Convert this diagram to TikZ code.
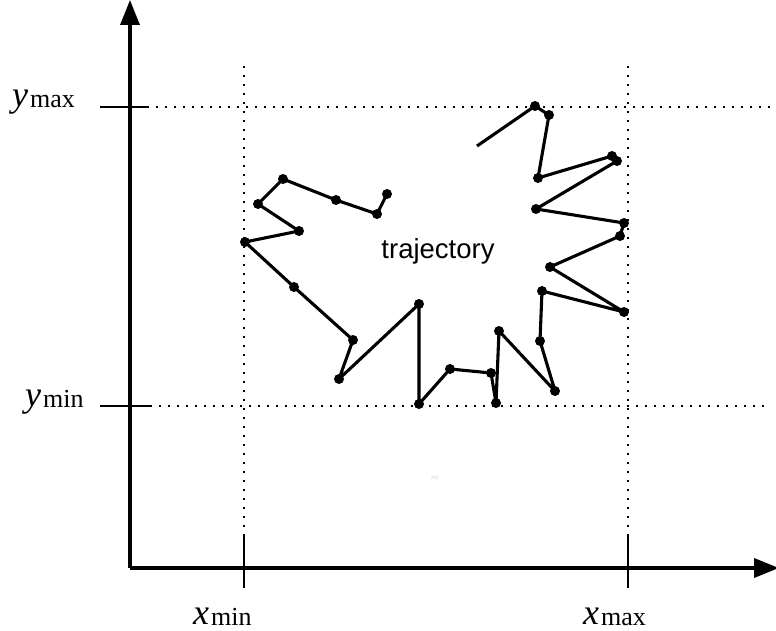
\documentclass[tikz,border=0pt]{standalone}
\usepackage{fontspec}
\setmainfont{Liberation Serif}
\newfontfamily\helv{Liberation Sans}
\usetikzlibrary{arrows.meta}
\tikzset{
  axis/.style={line width=3.3pt,-{Triangle[length=25pt,width=19pt]}},
  tickline/.style={line width=1.3pt},
  guide/.style={line width=1.6pt,dash pattern=on 1.6pt off 7.4pt},
  traj/.style={line width=3.1pt,line join=round},
  lbl/.style={inner sep=0pt,anchor=base west},
}
\newcommand{\axlab}[2]{{\fontsize{36}{36}\selectfont\itshape #1}\hspace{2pt}{\fontsize{26}{26}\selectfont\raisebox{-1pt}{#2}}}
\begin{document}
\begin{tikzpicture}[x=1pt,y=-1pt]
\useasboundingbox (0,0) rectangle (776,631);
% axes
\coordinate (O) at (130,568);
\coordinate (ytop) at (130,0);
\coordinate (xend) at (779,568);
\draw[axis] (O) -- (ytop);
\draw[axis] (O) -- (xend);
% ticks
\coordinate (ymaxA) at (100,107); \coordinate (ymaxB) at (147,107);
\coordinate (yminA) at (100,406); \coordinate (yminB) at (150,406);
\coordinate (xminA) at (244,536); \coordinate (xminB) at (244,588);
\coordinate (xmaxA) at (628,536); \coordinate (xmaxB) at (628,588);
\draw[tickline] (ymaxA) -- (ymaxB);
\draw[tickline] (yminA) -- (yminB);
\draw[tickline] (xminA) -- (xminB);
\draw[tickline] (xmaxA) -- (xmaxB);
% guides
\coordinate (gymax) at (770,107); \coordinate (gymin) at (770,406);
\coordinate (gxmin) at (244,60); \coordinate (gxmax) at (628,60);
\draw[guide] (ymaxB) -- (gymax);
\draw[guide] (yminB) -- (gymin);
\draw[guide] (xminA) -- (gxmin);
\draw[guide] (xmaxA) -- (gxmax);
% labels
\node[lbl] (lymax) at (12,107) {\axlab{y}{max}};
\node[lbl] (lymin) at (25,406) {\axlab{y}{min}};
\node[lbl] (lxmin) at (193,624) {\axlab{x}{min}};
\node[lbl] (lxmax) at (583,624) {\axlab{x}{max}};
\node[inner sep=0pt,anchor=base] (tl) at (438,258) {\helv\fontsize{27.5}{27.5}\selectfont trajectory};
\node[inner sep=0pt,text=black!25] (tag) at (435,478) {\fontsize{5}{5}\selectfont \#12};
% trajectory
\coordinate (s) at (477,146);
\foreach \n/\p in {1/{535,106},2/{549,115},3/{538,178},4/{612,156},5/{617,161},6/{536,209},7/{624,223},8/{620,236},9/{550,267},10/{624,312},11/{542,291},12/{540,341},13/{555,391},14/{499,331},15/{496,403},16/{491,373},17/{450,369},18/{419,404},19/{419,304},20/{339,379},21/{353,340},22/{294,287},23/{245,242},24/{299,231},25/{258,204},26/{283,179},27/{336,200},28/{377,214},29/{387,194}}
  \coordinate (p\n) at (\p);
\draw[traj] (s) -- (p1) -- (p2) -- (p3) -- (p4) -- (p5) -- (p6) -- (p7) -- (p8) -- (p9) -- (p10) -- (p11) -- (p12) -- (p13) -- (p14) -- (p15) -- (p16) -- (p17) -- (p18) -- (p19) -- (p20) -- (p21) -- (p22) -- (p23) -- (p24) -- (p25) -- (p26) -- (p27) -- (p28) -- (p29);
\foreach \n in {1,...,29} \fill (p\n) circle (5pt);
\end{tikzpicture}
\end{document}
